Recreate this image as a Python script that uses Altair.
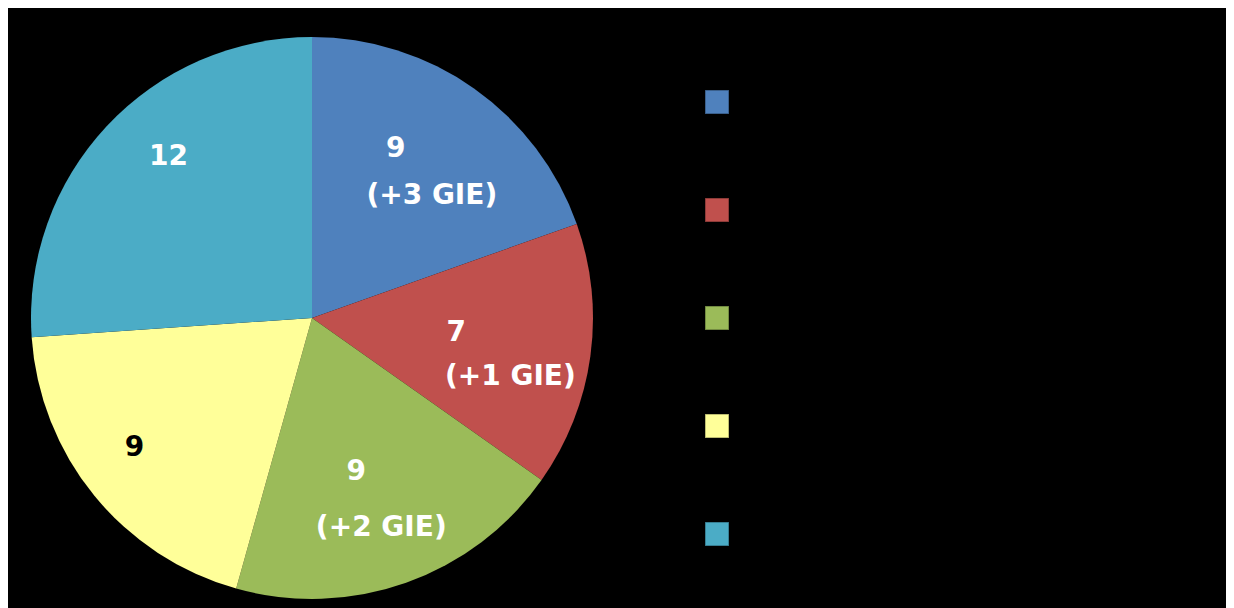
import altair as alt
import pandas as pd

categories = ["Catégorie 1", "Catégorie 2", "Catégorie 3", "Catégorie 4", "Catégorie 5"]
values = [9, 7, 9, 9, 12]
line1 = ["9", "7", "9", "9", "12"]
line2 = ["(+3 GIE)", "(+1 GIE)", "(+2 GIE)", "", ""]
colors = ["#4F81BD", "#C0504D", "#9BBB59", "#FFFF99", "#4BACC6"]

df = pd.DataFrame({
    "cat": categories,
    "value": values,
    "idx": list(range(len(categories))),
    "l1": line1,
    "l2": line2,
})

CX, CY = 304, 310
R = 281
LR = 180

theta = alt.Theta("value:Q", stack=True)
order = alt.Order("idx:Q")
xc = alt.value(CX)
yc = alt.value(CY)

pie = alt.Chart(df).mark_arc(outerRadius=R, stroke=None).encode(
    theta=theta,
    order=order,
    x=xc,
    y=yc,
    color=alt.Color(
        "cat:N",
        scale=alt.Scale(domain=categories, range=colors),
        sort=categories,
        legend=alt.Legend(
            title=None,
            orient="none",
            legendX=696,
            legendY=81,
            symbolType="square",
            symbolSize=576,
            symbolStrokeColor="rgba(0,0,0,0.35)",
            symbolStrokeWidth=1.5,
            symbolOpacity=1,
            labelColor="#000000",
            labelFontSize=12,
            labelFont="DejaVu Sans",
            rowPadding=78,
            padding=0,
        ),
    ),
)

# (category index, which line, dx, dy, colour)
offsets = [
    (0, "l1", -20, -22, "white"),
    (0, "l2", 16, 25, "white"),
    (1, "l1", -34, -10, "white"),
    (1, "l2", 20, 34, "white"),
    (2, "l1", -16, -16, "white"),
    (2, "l2", 9, 40, "white"),
    (3, "l1", -38, 16, "black"),
    (4, "l1", -12, -38, "white"),
]

layers = [pie]
for i, field, dx, dy, col in offsets:
    t = (
        alt.Chart(df)
        .transform_calculate(t=f"datum.idx == {i} ? datum.{field} : ''")
        .mark_text(
            radius=LR,
            dx=dx,
            dy=dy,
            font="DejaVu Sans",
            fontWeight="bold",
            fontSize=28,
            color=col,
            align="center",
            baseline="middle",
        )
        .encode(theta=theta, order=order, x=xc, y=yc, text="t:N")
    )
    layers.append(t)

chart = (
    alt.layer(*layers)
    .properties(
        width=1218,
        height=600,
        autosize=alt.AutoSizeParams(type="none"),
        padding=0,
        background="#000000",
    )
    .configure_view(stroke=None)
)

chart.save("out.html", embed_options={"renderer": "svg", "actions": False})
